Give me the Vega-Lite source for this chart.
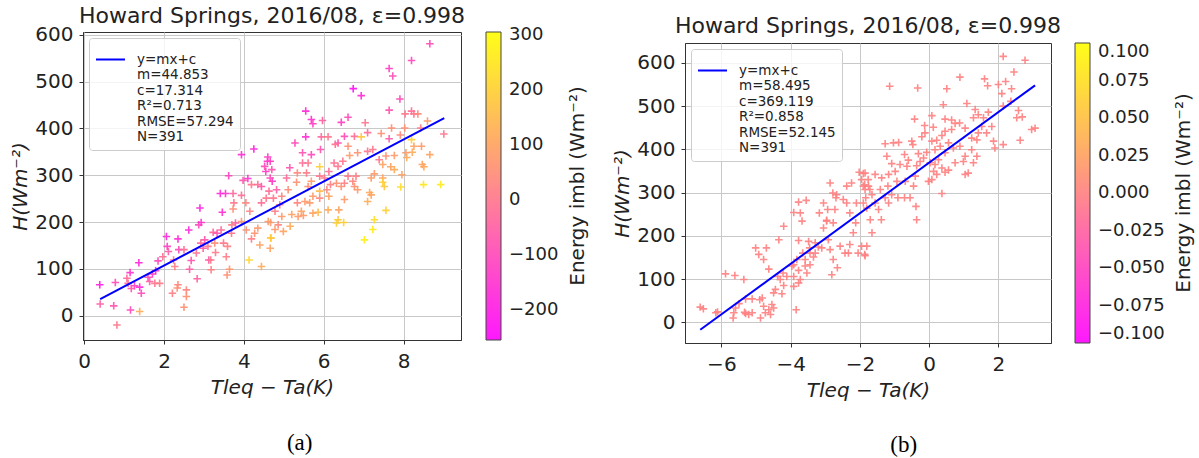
{
  "$schema": "https://vega.github.io/schema/vega-lite/v6.json",
  "background": "white",
  "padding": {"left": 10, "top": 3, "right": 0, "bottom": 0},
  "spacing": 23,
  "resolve": {"scale": {"color": "independent", "stroke": "independent"}, "legend": {"color": "independent", "stroke": "independent"}},
  "datasets": {
    "a": [
      {"x":0.39,"y":66,"e":-200},{"x":0.4,"y":25,"e":-50},{"x":0.82,"y":-20,"e":0},{"x":0.74,"y":21,"e":-80},{"x":0.78,"y":71,"e":-100},{"x":1.07,"y":80,"e":-30},{"x":1.15,"y":92,"e":-150},{"x":1.37,"y":113,"e":-180},{"x":1.16,"y":12,"e":-100},{"x":1.39,"y":9,"e":120},
      {"x":1.39,"y":61,"e":-170},{"x":1.43,"y":48,"e":-100},{"x":1.26,"y":64,"e":-120},{"x":1.18,"y":58,"e":-80},{"x":1.1,"y":69,"e":-20},{"x":1.6,"y":82,"e":-100},{"x":1.71,"y":89,"e":-120},{"x":1.79,"y":96,"e":-150},{"x":1.85,"y":117,"e":-100},{"x":1.77,"y":69,"e":0},
      {"x":1.64,"y":73,"e":-50},{"x":1.89,"y":69,"e":10},{"x":2.06,"y":169,"e":-180},{"x":2.08,"y":148,"e":-120},{"x":2.11,"y":137,"e":-60},{"x":1.97,"y":126,"e":-20},{"x":2.35,"y":164,"e":-170},{"x":2.37,"y":141,"e":-100},{"x":2.24,"y":119,"e":0},{"x":2.27,"y":105,"e":20},
      {"x":2.35,"y":66,"e":30},{"x":2.21,"y":48,"e":20},{"x":2.33,"y":59,"e":60},{"x":2.56,"y":55,"e":30},{"x":2.56,"y":41,"e":60},{"x":2.5,"y":18,"e":60},{"x":2.64,"y":99,"e":-60},{"x":2.68,"y":118,"e":-80},{"x":2.5,"y":141,"e":-20},{"x":2.62,"y":183,"e":-170},
      {"x":2.81,"y":134,"e":-10},{"x":2.83,"y":79,"e":-50},{"x":2.9,"y":230,"e":-180},{"x":2.92,"y":155,"e":-30},{"x":2.98,"y":144,"e":-60},{"x":3.1,"y":148,"e":0},{"x":3.12,"y":119,"e":-60},{"x":3.02,"y":162,"e":-80},{"x":2.87,"y":194,"e":-100},{"x":2.93,"y":199,"e":-150},
      {"x":3.23,"y":178,"e":-30},{"x":3.33,"y":176,"e":-80},{"x":3.46,"y":221,"e":-160},{"x":3.43,"y":183,"e":-30},{"x":3.49,"y":155,"e":0},{"x":3.18,"y":98,"e":20},{"x":3.17,"y":119,"e":0},{"x":3.29,"y":135,"e":10},{"x":3.27,"y":155,"e":50},{"x":3.59,"y":148,"e":20},
      {"x":3.56,"y":126,"e":20},{"x":3.64,"y":99,"e":70},{"x":3.58,"y":87,"e":60},{"x":3.41,"y":261,"e":-170},{"x":3.54,"y":261,"e":-150},{"x":3.62,"y":299,"e":-110},{"x":3.73,"y":261,"e":-30},{"x":3.75,"y":241,"e":0},{"x":3.73,"y":228,"e":50},{"x":3.79,"y":198,"e":-60},
      {"x":3.7,"y":194,"e":10},{"x":3.69,"y":176,"e":0},{"x":3.94,"y":344,"e":-160},{"x":4.25,"y":356,"e":-180},{"x":3.98,"y":289,"e":-80},{"x":4.1,"y":293,"e":-150},{"x":4.19,"y":280,"e":0},{"x":3.94,"y":257,"e":-20},{"x":4.05,"y":241,"e":30},{"x":4.15,"y":223,"e":30},
      {"x":3.94,"y":201,"e":70},{"x":4.06,"y":183,"e":60},{"x":4.13,"y":119,"e":220},{"x":4.35,"y":187,"e":80},{"x":4.4,"y":151,"e":100},{"x":4.44,"y":105,"e":120},{"x":4.19,"y":164,"e":20},{"x":4.27,"y":176,"e":60},{"x":4.59,"y":330,"e":-150},{"x":4.6,"y":339,"e":-120},
      {"x":4.52,"y":319,"e":-100},{"x":4.55,"y":308,"e":-120},{"x":4.71,"y":287,"e":-150},{"x":4.63,"y":266,"e":-20},{"x":4.56,"y":251,"e":0},{"x":4.44,"y":241,"e":-20},{"x":4.67,"y":199,"e":80},{"x":4.67,"y":166,"e":200},{"x":4.44,"y":276,"e":-80},{"x":4.35,"y":280,"e":-20},
      {"x":8.66,"y":581,"e":-100},{"x":8.2,"y":545,"e":-100},{"x":7.64,"y":528,"e":-120},{"x":7.73,"y":512,"e":-90},{"x":6.74,"y":485,"e":-230},{"x":6.94,"y":470,"e":-170},{"x":7.91,"y":463,"e":-100},{"x":5.55,"y":437,"e":-170},{"x":5.69,"y":419,"e":-150},{"x":5.73,"y":410,"e":-120},
      {"x":5.97,"y":417,"e":-50},{"x":6.61,"y":424,"e":-100},{"x":6.44,"y":413,"e":-120},{"x":7.64,"y":439,"e":-80},{"x":8.2,"y":437,"e":-20},{"x":8.26,"y":431,"e":-10},{"x":8.36,"y":431,"e":40},{"x":8.04,"y":431,"e":0},{"x":7.04,"y":412,"e":0},{"x":7.1,"y":391,"e":-20},
      {"x":7.7,"y":401,"e":60},{"x":8.03,"y":401,"e":60},{"x":8.6,"y":416,"e":80},{"x":8.43,"y":401,"e":20},{"x":9.01,"y":388,"e":0},{"x":5.55,"y":382,"e":-160},{"x":5.94,"y":382,"e":-30},{"x":6.11,"y":382,"e":0},{"x":5.28,"y":369,"e":-100},{"x":6.52,"y":383,"e":-100},
      {"x":6.36,"y":369,"e":-80},{"x":6.77,"y":383,"e":-20},{"x":6.94,"y":382,"e":180},{"x":7.44,"y":389,"e":60},{"x":7.64,"y":378,"e":-60},{"x":7.92,"y":386,"e":40},{"x":8.2,"y":376,"e":200},{"x":8.26,"y":362,"e":100},{"x":8.45,"y":362,"e":80},{"x":8.66,"y":344,"e":100},
      {"x":8.22,"y":349,"e":120},{"x":8.06,"y":348,"e":80},{"x":8.08,"y":338,"e":120},{"x":5.47,"y":348,"e":-80},{"x":5.69,"y":344,"e":-100},{"x":5.92,"y":355,"e":-80},{"x":6.29,"y":366,"e":-10},{"x":6.61,"y":362,"e":60},{"x":6.65,"y":342,"e":80},{"x":6.85,"y":348,"e":60},
      {"x":7.1,"y":351,"e":0},{"x":7.23,"y":355,"e":0},{"x":7.39,"y":333,"e":0},{"x":7.56,"y":341,"e":60},{"x":7.77,"y":342,"e":80},{"x":7.48,"y":323,"e":100},{"x":7.68,"y":318,"e":100},{"x":7.77,"y":312,"e":120},{"x":7.96,"y":301,"e":100},{"x":8.47,"y":323,"e":100},
      {"x":8.51,"y":318,"e":110},{"x":7.93,"y":275,"e":230},{"x":8.5,"y":280,"e":250},{"x":8.93,"y":280,"e":260},{"x":7.48,"y":294,"e":100},{"x":7.19,"y":294,"e":90},{"x":7.27,"y":303,"e":80},{"x":7.48,"y":285,"e":200},{"x":7.52,"y":276,"e":180},{"x":7.15,"y":263,"e":120},
      {"x":7.19,"y":258,"e":100},{"x":7.1,"y":244,"e":120},{"x":7.56,"y":225,"e":200},{"x":7.27,"y":205,"e":230},{"x":7.23,"y":184,"e":260},{"x":7.02,"y":162,"e":270},{"x":6.77,"y":276,"e":60},{"x":6.85,"y":269,"e":80},{"x":6.73,"y":287,"e":30},{"x":6.81,"y":298,"e":20},
      {"x":6.61,"y":298,"e":10},{"x":6.52,"y":283,"e":20},{"x":6.44,"y":276,"e":60},{"x":6.32,"y":283,"e":60},{"x":6.52,"y":248,"e":80},{"x":6.38,"y":226,"e":100},{"x":6.36,"y":205,"e":180},{"x":6.5,"y":199,"e":200},{"x":6.32,"y":198,"e":200},{"x":6.11,"y":226,"e":120},
      {"x":6.13,"y":255,"e":100},{"x":5.86,"y":221,"e":150},{"x":5.9,"y":266,"e":150},{"x":6.17,"y":280,"e":20},{"x":6.02,"y":294,"e":0},{"x":6.13,"y":308,"e":-20},{"x":6.36,"y":319,"e":0},{"x":6.26,"y":326,"e":-10},{"x":6.48,"y":330,"e":0},{"x":5.9,"y":318,"e":200},
      {"x":5.9,"y":298,"e":0},{"x":5.61,"y":326,"e":0},{"x":5.57,"y":305,"e":10},{"x":5.47,"y":326,"e":-20},{"x":5.69,"y":287,"e":80},{"x":5.61,"y":276,"e":60},{"x":5.73,"y":255,"e":80},{"x":5.65,"y":241,"e":80},{"x":5.53,"y":244,"e":80},{"x":5.73,"y":219,"e":100},
      {"x":5.44,"y":223,"e":100},{"x":5.34,"y":305,"e":40},{"x":5.32,"y":285,"e":60},{"x":5.15,"y":316,"e":-80},{"x":5.07,"y":294,"e":-30},{"x":5.11,"y":269,"e":50},{"x":4.95,"y":255,"e":30},{"x":4.9,"y":237,"e":20},{"x":4.78,"y":223,"e":20},{"x":4.74,"y":251,"e":0},
      {"x":4.82,"y":269,"e":-60},{"x":4.66,"y":294,"e":-100},{"x":4.66,"y":330,"e":-120},{"x":4.7,"y":312,"e":-80},{"x":4.95,"y":212,"e":80},{"x":5.16,"y":191,"e":120},{"x":5.2,"y":216,"e":100},{"x":5.36,"y":212,"e":80},{"x":5.49,"y":214,"e":80},{"x":4.78,"y":184,"e":80},
      {"x":4.86,"y":194,"e":40},{"x":4.99,"y":180,"e":100},{"x":4.68,"y":166,"e":180},{"x":4.66,"y":144,"e":100},{"x":4.61,"y":201,"e":80},{"x":5.9,"y":251,"e":40},{"x":5.34,"y":241,"e":30},{"x":6.08,"y":269,"e":40}
    ],
    "fa": [{"x":0.4,"y":35.3},{"x":9.02,"y":421.9}],
    "b": [
      {"x":-6.61,"y":35,"e":0},{"x":-6.52,"y":31,"e":0},{"x":-6.11,"y":24,"e":0},{"x":-6.16,"y":22,"e":0},{"x":-5.88,"y":112,"e":0},{"x":-5.61,"y":108,"e":0},{"x":-5.35,"y":99,"e":0},{"x":-5.59,"y":33,"e":0},{"x":-5.64,"y":22,"e":0},{"x":-5.66,"y":10,"e":0},
      {"x":-5.49,"y":43,"e":0},{"x":-5.3,"y":54,"e":0},{"x":-5.11,"y":54,"e":0},{"x":-5.33,"y":23,"e":0},{"x":-5.21,"y":18,"e":0},{"x":-5.3,"y":20,"e":0},{"x":-5.11,"y":22,"e":0},{"x":-4.89,"y":52,"e":0},{"x":-4.78,"y":37,"e":0},{"x":-4.87,"y":10,"e":0},
      {"x":-4.63,"y":29,"e":0},{"x":-4.54,"y":41,"e":0},{"x":-4.73,"y":22,"e":0},{"x":-4.58,"y":18,"e":0},{"x":-4.49,"y":33,"e":0},{"x":-4.82,"y":56,"e":0},{"x":-5.01,"y":172,"e":0},{"x":-4.92,"y":157,"e":0},{"x":-4.7,"y":172,"e":0},{"x":-4.78,"y":145,"e":0},
      {"x":-4.63,"y":123,"e":0},{"x":-4.34,"y":191,"e":0},{"x":-4.2,"y":222,"e":0},{"x":-4.44,"y":76,"e":0},{"x":-4.25,"y":66,"e":0},{"x":-4.49,"y":68,"e":0},{"x":-4.3,"y":99,"e":0},{"x":-4.37,"y":106,"e":0},{"x":-4.22,"y":114,"e":0},{"x":-4.11,"y":106,"e":0},
      {"x":-4.2,"y":85,"e":0},{"x":-3.91,"y":83,"e":0},{"x":-3.84,"y":29,"e":0},{"x":-3.77,"y":91,"e":0},{"x":-3.91,"y":106,"e":0},{"x":-3.72,"y":99,"e":0},{"x":-3.77,"y":120,"e":0},{"x":-3.91,"y":133,"e":0},{"x":-3.82,"y":145,"e":0},{"x":-3.96,"y":130,"e":0},
      {"x":-3.77,"y":189,"e":0},{"x":-3.67,"y":234,"e":0},{"x":-3.72,"y":253,"e":0},{"x":-3.77,"y":278,"e":0},{"x":-3.55,"y":282,"e":0},{"x":-3.91,"y":254,"e":0},{"x":-3.65,"y":160,"e":0},{"x":-3.58,"y":145,"e":0},{"x":-3.48,"y":187,"e":0},{"x":-3.45,"y":172,"e":0},
      {"x":-3.58,"y":130,"e":0},{"x":-3.53,"y":114,"e":0},{"x":-3.44,"y":133,"e":0},{"x":-3.34,"y":151,"e":0},{"x":-3.29,"y":160,"e":0},{"x":-3.44,"y":160,"e":0},{"x":-3.05,"y":276,"e":0},{"x":-2.93,"y":261,"e":0},{"x":-2.96,"y":236,"e":0},{"x":-3.05,"y":218,"e":0},
      {"x":-2.91,"y":191,"e":0},{"x":-3.2,"y":174,"e":0},{"x":-3.1,"y":172,"e":0},{"x":-2.86,"y":168,"e":0},{"x":-2.81,"y":110,"e":0},{"x":-2.65,"y":126,"e":0},{"x":-2.77,"y":145,"e":0},{"x":-2.57,"y":176,"e":0},{"x":-2.43,"y":160,"e":0},{"x":-2.29,"y":180,"e":0},
      {"x":-2.33,"y":160,"e":0},{"x":-2.86,"y":322,"e":0},{"x":-2.78,"y":299,"e":0},{"x":-2.67,"y":295,"e":0},{"x":-2.72,"y":261,"e":0},{"x":-2.48,"y":284,"e":0},{"x":-2.38,"y":276,"e":0},{"x":-2.29,"y":253,"e":0},{"x":-2.19,"y":207,"e":0},{"x":-2.12,"y":230,"e":0},
      {"x":-2.1,"y":276,"e":0},{"x":-1.9,"y":315,"e":0},{"x":-1.83,"y":288,"e":0},{"x":-1.9,"y":276,"e":0},{"x":-2.24,"y":322,"e":0},{"x":-2.38,"y":315,"e":0},{"x":-2.69,"y":288,"e":0},{"x":-3.17,"y":253,"e":0},{"x":-2.96,"y":234,"e":0},{"x":-2.02,"y":347,"e":0},
      {"x":-1.9,"y":344,"e":0},{"x":-1.95,"y":330,"e":0},{"x":-1.86,"y":318,"e":0},{"x":-1.71,"y":307,"e":0},{"x":-1.76,"y":330,"e":0},{"x":-1.95,"y":176,"e":0},{"x":-1.86,"y":157,"e":0},{"x":-2.05,"y":160,"e":0},{"x":-2.77,"y":230,"e":0},{"x":-3.29,"y":184,"e":0},
      {"x":2.14,"y":615,"e":0},{"x":2.77,"y":606,"e":0},{"x":2.45,"y":579,"e":0},{"x":0.89,"y":567,"e":0},{"x":1.6,"y":563,"e":0},{"x":2.0,"y":550,"e":0},{"x":2.21,"y":557,"e":0},{"x":1.69,"y":547,"e":0},{"x":2.38,"y":540,"e":0},{"x":2.1,"y":529,"e":0},
      {"x":-1.14,"y":546,"e":0},{"x":-0.33,"y":542,"e":0},{"x":0.51,"y":540,"e":0},{"x":0.41,"y":503,"e":0},{"x":1.09,"y":506,"e":0},{"x":2.14,"y":500,"e":0},{"x":2.36,"y":511,"e":0},{"x":2.58,"y":490,"e":0},{"x":2.69,"y":475,"e":0},{"x":2.53,"y":473,"e":0},
      {"x":2.96,"y":446,"e":0},{"x":3.06,"y":449,"e":0},{"x":2.63,"y":421,"e":0},{"x":2.14,"y":411,"e":0},{"x":1.9,"y":403,"e":0},{"x":1.86,"y":419,"e":0},{"x":1.33,"y":492,"e":0},{"x":1.42,"y":480,"e":0},{"x":1.28,"y":473,"e":0},{"x":1.57,"y":473,"e":0},
      {"x":1.71,"y":486,"e":0},{"x":1.81,"y":453,"e":0},{"x":1.66,"y":438,"e":0},{"x":1.52,"y":453,"e":0},{"x":1.42,"y":438,"e":0},{"x":1.38,"y":422,"e":0},{"x":1.23,"y":426,"e":0},{"x":1.04,"y":449,"e":0},{"x":0.88,"y":461,"e":0},{"x":0.75,"y":460,"e":0},
      {"x":0.65,"y":446,"e":0},{"x":0.46,"y":442,"e":0},{"x":0.46,"y":470,"e":0},{"x":0.08,"y":478,"e":0},{"x":-0.42,"y":470,"e":0},{"x":-0.13,"y":455,"e":0},{"x":0.12,"y":451,"e":0},{"x":0.37,"y":432,"e":0},{"x":0.22,"y":421,"e":0},{"x":0.08,"y":419,"e":0},
      {"x":-0.21,"y":429,"e":0},{"x":-0.5,"y":419,"e":0},{"x":-0.47,"y":411,"e":0},{"x":-0.88,"y":416,"e":0},{"x":-1.03,"y":415,"e":0},{"x":-1.27,"y":413,"e":0},{"x":-1.22,"y":384,"e":0},{"x":-0.71,"y":388,"e":0},{"x":-0.31,"y":390,"e":0},{"x":-0.07,"y":393,"e":0},
      {"x":0.17,"y":399,"e":0},{"x":0.32,"y":407,"e":0},{"x":0.46,"y":392,"e":0},{"x":0.7,"y":403,"e":0},{"x":0.89,"y":407,"e":0},{"x":1.04,"y":384,"e":0},{"x":1.23,"y":399,"e":0},{"x":1.38,"y":384,"e":0},{"x":1.28,"y":369,"e":0},{"x":0.99,"y":372,"e":0},
      {"x":1.13,"y":345,"e":0},{"x":1.04,"y":342,"e":0},{"x":0.75,"y":369,"e":0},{"x":0.56,"y":352,"e":0},{"x":0.37,"y":357,"e":0},{"x":0.27,"y":376,"e":0},{"x":0.17,"y":365,"e":0},{"x":0.13,"y":349,"e":0},{"x":0.03,"y":369,"e":0},{"x":-0.16,"y":380,"e":0},
      {"x":-0.26,"y":372,"e":0},{"x":-0.36,"y":362,"e":0},{"x":-0.6,"y":375,"e":0},{"x":-0.64,"y":361,"e":0},{"x":-0.84,"y":365,"e":0},{"x":-0.98,"y":349,"e":0},{"x":-1.08,"y":367,"e":0},{"x":-1.17,"y":342,"e":0},{"x":-1.37,"y":334,"e":0},{"x":-1.56,"y":342,"e":0},
      {"x":-1.75,"y":315,"e":0},{"x":-1.85,"y":345,"e":0},{"x":-1.65,"y":295,"e":0},{"x":-1.41,"y":307,"e":0},{"x":-1.19,"y":315,"e":0},{"x":-0.93,"y":326,"e":0},{"x":-0.69,"y":326,"e":0},{"x":-0.4,"y":338,"e":0},{"x":-0.45,"y":315,"e":0},{"x":-0.55,"y":288,"e":0},
      {"x":-0.71,"y":288,"e":0},{"x":-0.9,"y":288,"e":0},{"x":-1.08,"y":295,"e":0},{"x":-1.27,"y":288,"e":0},{"x":-1.17,"y":276,"e":0},{"x":-1.46,"y":261,"e":0},{"x":-1.38,"y":237,"e":0},{"x":-1.7,"y":237,"e":0},{"x":-1.65,"y":207,"e":0},{"x":-1.8,"y":264,"e":0},
      {"x":-1.56,"y":276,"e":0},{"x":-0.38,"y":268,"e":0},{"x":-0.36,"y":237,"e":0},{"x":0.37,"y":298,"e":0},{"x":0.08,"y":330,"e":0},{"x":-0.02,"y":326,"e":0},{"x":0.22,"y":342,"e":0},{"x":0.46,"y":347,"e":0},{"x":-1.85,"y":154,"e":0},{"x":-1.8,"y":176,"e":0},
      {"x":-1.85,"y":307,"e":0},{"x":0.65,"y":468,"e":0},{"x":-0.12,"y":438,"e":0},{"x":0.56,"y":415,"e":0}
    ],
    "fb": [{"x":-6.61,"y":-17.5},{"x":3.06,"y":548.1}],
    "blank": [{"t":""}],
    "cbt": [{"t":"Energy imbl (Wm⁻²)"}]
  },
  "hconcat": [
    {
      "title": {"text": "(a)", "orient": "bottom", "anchor": "middle", "frame": "bounds", "font": "Liberation Serif", "fontSize": 23, "fontWeight": "normal", "color": "#000000", "offset": 34},
      "spacing": 0,
      "resolve": {"scale": {"color": "independent", "stroke": "independent"}, "legend": {"color": "independent", "stroke": "independent"}},
      "vconcat": [
        {"width": 1, "height": 1, "view": {"stroke": null, "fill": "#ffffff"}, "data": {"name": "blank"}, "mark": {"type": "point", "size": 0, "opacity": 0, "strokeWidth": 0}},
        {
          "spacing": 7,
          "resolve": {"scale": {"color": "independent", "stroke": "independent"}, "legend": {"color": "independent", "stroke": "independent"}},
          "hconcat": [
            {
              "width": 378,
              "height": 308,
              "title": {"text": "Howard Springs, 2016/08, ε=0.998", "frame": "group", "anchor": "middle", "fontSize": 22, "fontWeight": "normal", "color": "#222222", "offset": -3},
              "layer": [
                {
                  "data": {"name": "a"},
                  "mark": {"type": "point", "shape": "M-1,0H1M0,-1V1", "filled": false, "size": 56, "strokeWidth": 1.6, "opacity": 0.9},
                  "encoding": {
                    "x": {"field": "x", "type": "quantitative", "scale": {"domain": [-0.03, 9.44], "nice": false, "zero": false}, "axis": {"values": [0, 2, 4, 6, 8], "title": "Tleq − Ta(K)"}},
                    "y": {"field": "y", "type": "quantitative", "scale": {"domain": [-52, 606], "nice": false, "zero": false}, "axis": {"values": [0, 100, 200, 300, 400, 500, 600], "title": "H(Wm⁻²)"}},
                    "color": {
                      "field": "e", "type": "quantitative",
                      "scale": {"domain": [-255, 306], "range": ["#ff00ff", "#ffff00"], "interpolate": "rgb"},
                      "legend": {"type": "gradient", "direction": "vertical", "orient": "right", "offset": 25, "gradientLength": 308, "gradientThickness": 15, "gradientStrokeColor": "#333333", "gradientStrokeWidth": 1, "values": [-200, -100, 0, 100, 200, 300], "format": "d", "labelFontSize": 18, "labelOffset": 8, "labelColor": "#222222", "title": null}
                    }
                  }
                },
                {
                  "data": {"name": "fa"},
                  "mark": {"type": "line", "strokeWidth": 2},
                  "encoding": {
                    "x": {"field": "x", "type": "quantitative"},
                    "y": {"field": "y", "type": "quantitative"},
                    "stroke": {
                      "datum": "fit", "type": "nominal",
                      "scale": {"domain": ["fit"], "range": ["#0000ff"]},
                      "legend": {"orient": "top-left", "offset": 6, "title": null, "symbolType": "stroke", "symbolSize": 841, "symbolStrokeWidth": 2, "labelExpr": "['y=mx+c','m=44.853','c=17.314','R²=0.713','RMSE=57.294','N=391']", "labelFontSize": 13.5, "labelColor": "#222222", "labelOffset": 11, "labelLimit": 300, "padding": 6, "fillColor": "rgba(255,255,255,0.8)", "strokeColor": "#cccccc", "cornerRadius": 3}
                    }
                  }
                }
              ]
            },
            {
              "width": 22, "height": 308, "view": {"stroke": null},
              "data": {"name": "cbt"},
              "mark": {"type": "text", "angle": 270, "fontSize": 20, "font": "DejaVu Sans", "color": "#222222", "align": "center", "baseline": "middle"},
              "encoding": {"text": {"field": "t", "type": "nominal"}}
            }
          ]
        }
      ]
    },
    {
      "title": {"text": "(b)", "orient": "bottom", "anchor": "middle", "frame": "bounds", "font": "Liberation Serif", "fontSize": 23, "fontWeight": "normal", "color": "#000000", "offset": 33},
      "spacing": 0,
      "resolve": {"scale": {"color": "independent", "stroke": "independent"}, "legend": {"color": "independent", "stroke": "independent"}},
      "vconcat": [
        {"width": 1, "height": 11, "view": {"stroke": null, "fill": "#ffffff"}, "data": {"name": "blank"}, "mark": {"type": "point", "size": 0, "opacity": 0, "strokeWidth": 0}},
        {
          "spacing": 7,
          "resolve": {"scale": {"color": "independent", "stroke": "independent"}, "legend": {"color": "independent", "stroke": "independent"}},
          "hconcat": [
            {
              "width": 366,
              "height": 300,
              "title": {"text": "Howard Springs, 2016/08, ε=0.998", "frame": "group", "anchor": "middle", "fontSize": 22, "fontWeight": "normal", "color": "#222222", "offset": 5},
              "layer": [
                {
                  "data": {"name": "b"},
                  "mark": {"type": "point", "shape": "M-1,0H1M0,-1V1", "filled": false, "size": 56, "strokeWidth": 1.6, "opacity": 0.9},
                  "encoding": {
                    "x": {"field": "x", "type": "quantitative", "scale": {"domain": [-7.05, 3.52], "nice": false, "zero": false}, "axis": {"values": [-6, -4, -2, 0, 2], "title": "Tleq − Ta(K)"}},
                    "y": {"field": "y", "type": "quantitative", "scale": {"domain": [-48, 646], "nice": false, "zero": false}, "axis": {"values": [0, 100, 200, 300, 400, 500, 600], "title": "H(Wm⁻²)"}},
                    "color": {
                      "field": "e", "type": "quantitative",
                      "scale": {"domain": [-0.1, 0.1], "range": ["#ff00ff", "#ffff00"], "interpolate": "rgb"},
                      "legend": {"type": "gradient", "direction": "vertical", "orient": "right", "offset": 24, "gradientLength": 300, "gradientThickness": 15, "gradientStrokeColor": "#333333", "gradientStrokeWidth": 1, "values": [-0.1, -0.075, -0.05, -0.025, 0, 0.025, 0.05, 0.075, 0.1], "format": ".3f", "labelFontSize": 18, "labelOffset": 8, "labelColor": "#222222", "title": null}
                    }
                  }
                },
                {
                  "data": {"name": "fb"},
                  "mark": {"type": "line", "strokeWidth": 2},
                  "encoding": {
                    "x": {"field": "x", "type": "quantitative"},
                    "y": {"field": "y", "type": "quantitative"},
                    "stroke": {
                      "datum": "fit", "type": "nominal",
                      "scale": {"domain": ["fit"], "range": ["#0000ff"]},
                      "legend": {"orient": "top-left", "offset": 6, "title": null, "symbolType": "stroke", "symbolSize": 841, "symbolStrokeWidth": 2, "labelExpr": "['y=mx+c','m=58.495','c=369.119','R²=0.858','RMSE=52.145','N=391']", "labelFontSize": 13.5, "labelColor": "#222222", "labelOffset": 11, "labelLimit": 300, "padding": 6, "fillColor": "rgba(255,255,255,0.8)", "strokeColor": "#cccccc", "cornerRadius": 3}
                    }
                  }
                }
              ]
            },
            {
              "width": 22, "height": 300, "view": {"stroke": null},
              "data": {"name": "cbt"},
              "mark": {"type": "text", "angle": 270, "fontSize": 20, "font": "DejaVu Sans", "color": "#222222", "align": "center", "baseline": "middle"},
              "encoding": {"text": {"field": "t", "type": "nominal"}}
            }
          ]
        }
      ]
    }
  ],
  "config": {
    "font": "DejaVu Sans",
    "view": {"stroke": "#333333", "strokeWidth": 1},
    "axis": {"gridColor": "#c8c8c8", "gridWidth": 1, "domainColor": "#333333", "tickColor": "#333333", "tickSize": 4, "labelFont": "DejaVu Sans", "labelFontSize": 20, "labelColor": "#222222", "titleFont": "DejaVu Sans", "titleFontSize": 20, "titleFontWeight": "normal", "titleFontStyle": "italic", "titleColor": "#222222", "labelPadding": 6},
    "axisX": {"titlePadding": 6, "labelPadding": 7},
    "axisY": {"titlePadding": 4},
    "legend": {"labelFont": "DejaVu Sans", "titleFont": "DejaVu Sans"},
    "title": {"font": "DejaVu Sans"}
  }
}
